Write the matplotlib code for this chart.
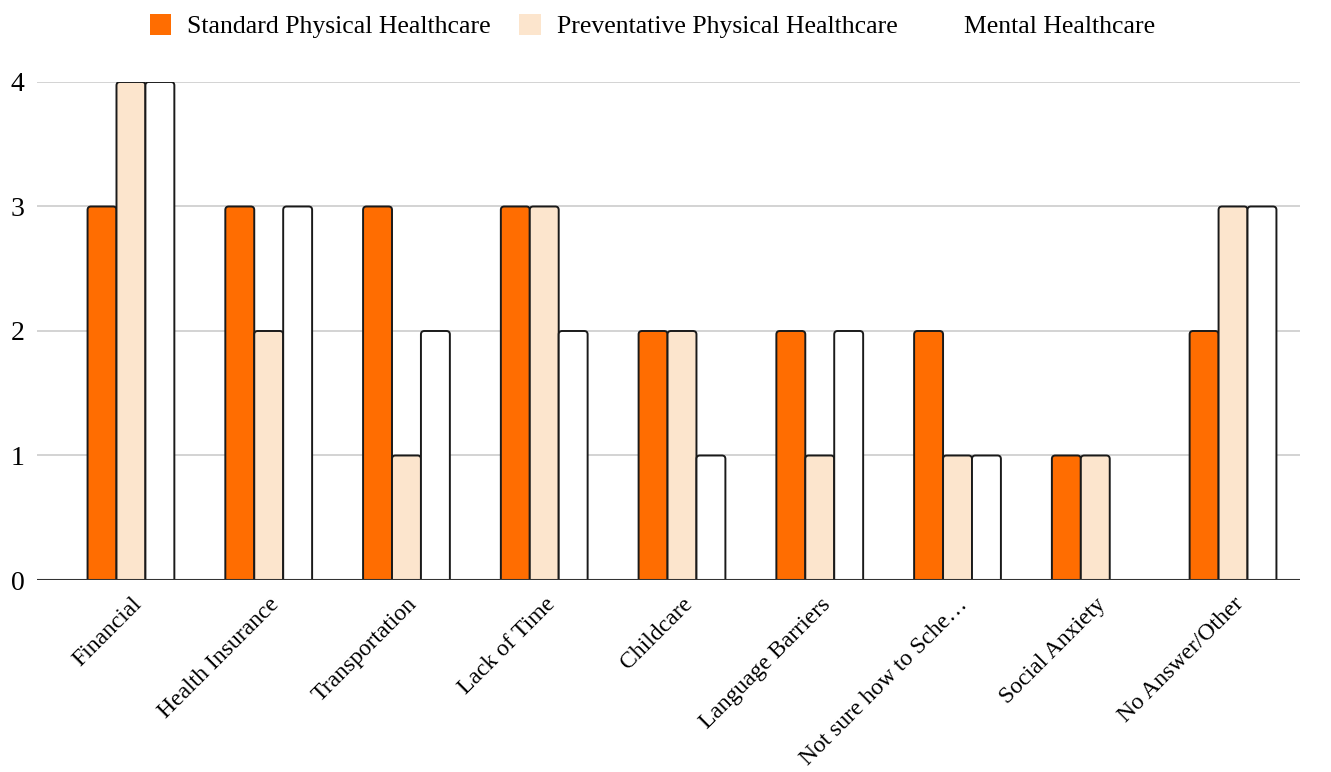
import matplotlib
matplotlib.use("Agg")
import matplotlib.pyplot as plt
import numpy as np
from matplotlib.patches import FancyBboxPatch

categories = ["Financial", "Health Insurance", "Transportation", "Lack of Time",
              "Childcare", "Language Barriers", "Not sure how to Sche\u2026",
              "Social Anxiety", "No Answer/Other"]
standard_physical = [3, 3, 3, 3, 2, 2, 2, 1, 2]
preventative_physical = [4, 2, 1, 3, 2, 1, 1, 1, 3]
mental = [4, 3, 2, 2, 1, 2, 1, 0, 3]
series_names = ["Standard Physical Healthcare", "Preventative Physical Healthcare", "Mental Healthcare"]
colors = ["#FF6D01", "#FCE5CD", "#FFFFFF"]

plt.rcParams['font.family'] = ['Liberation Serif', 'DejaVu Serif']

fig = plt.figure(figsize=(13.31, 7.72), dpi=100)
ax = fig.add_axes([0.0278, 0.2487, 0.9489, 0.6451])

x = np.arange(len(categories))
w = 0.21
ext = 0.06
series = [standard_physical, preventative_physical, mental]
handles = []
for k, (vals, c, name) in enumerate(zip(series, colors, series_names)):
    bars = ax.bar(x + (k - 1) * w, np.array(vals) + ext, w, bottom=-ext,
                  color=c, edgecolor="#1a1a1a", linewidth=1.4, label=name)
    for r in bars.patches:
        bx, by = r.get_x(), r.get_y()
        bw, bh = r.get_width(), r.get_height()
        fp = FancyBboxPatch((bx, by), bw, bh,
                            boxstyle="round,pad=0,rounding_size=0.025",
                            mutation_aspect=137.75 / 124.5,
                            facecolor=c, edgecolor="#1a1a1a", linewidth=1.4,
                            zorder=2)
        ax.add_patch(fp)
        r.set_visible(False)
    handles.append(plt.Rectangle((0, 0), 1, 1, facecolor=c, edgecolor="none"))

ax.set_xlim(-0.682, 8.486)
ax.set_ylim(0, 4)
ax.set_yticks([0, 1, 2, 3, 4])
ax.set_yticklabels(["0", "1", "2", "3", "4"], fontsize=20)
ax.yaxis.grid(True, color="#cccccc", linewidth=1.2, zorder=0)
ax.set_axisbelow(True)
ax.axhline(0, color="#333333", linewidth=1.5, zorder=3)
ax.tick_params(axis="both", length=0)
ax.tick_params(axis="y", pad=9)
ax.set_xticks(x)
ax.set_xticklabels(categories, rotation=45, ha="right", rotation_mode="anchor", fontsize=17)
ax.tick_params(axis="x", pad=10)
for s in ax.spines.values():
    s.set_visible(False)

fig.legend(handles, series_names, loc="center", bbox_to_anchor=(0.49, 0.966),
           ncol=3, frameon=False, fontsize=18.5, handlelength=0.85, handleheight=0.85,
           handletextpad=0.62, columnspacing=1.1)

fig.savefig("out.png", dpi=100)
